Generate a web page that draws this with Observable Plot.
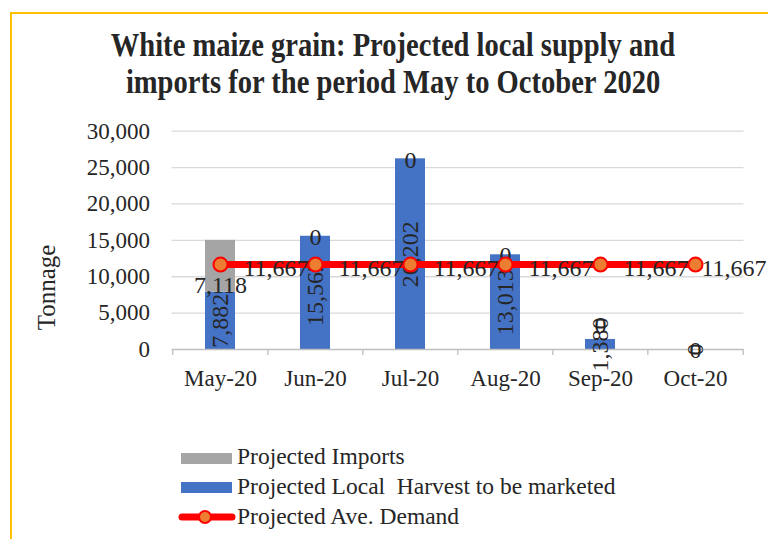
<!DOCTYPE html>
<html><head><meta charset="utf-8">
<script src="https://cdn.jsdelivr.net/npm/d3@7"></script>
<script src="https://cdn.jsdelivr.net/npm/@observablehq/plot@0.6"></script>
<style>
body{margin:0;width:768px;height:539px;overflow:hidden;background:#fff;position:relative;font-family:"Liberation Serif","Times New Roman",serif;color:#262626}
#frame{position:absolute;left:10px;top:12px;width:800px;height:600px;border:2px solid #FFC000;box-sizing:border-box}
#title{position:absolute;left:9px;top:26px;width:768px;text-align:center;font-weight:bold;font-size:34px;line-height:37px;color:#262626}
#title span{display:inline-block;transform:scaleX(0.84);transform-origin:center;white-space:nowrap}
#chart{position:absolute;left:0;top:110px}
.lg{position:absolute;font-size:23.5px;line-height:23.5px;white-space:pre;color:#262626}
.sw{position:absolute}
</style></head>
<body>
<div id="frame"></div>
<div id="title"><span>White maize grain: Projected local supply and</span><br><span>imports for the period May to October 2020</span></div>
<div id="chart"></div>
<div id="legend"></div>
<script>
const months = ["May-20","Jun-20","Jul-20","Aug-20","Sep-20","Oct-20"];
const localHarvest = [7882, 15562, 26202, 13013, 1380, 0];
const imports = [7118, 0, 0, 0, 0, 0];
const demand = [11667, 11667, 11667, 11667, 11667, 11667];
const yTicks = [0, 5000, 10000, 15000, 20000, 25000, 30000];
const seriesNames = ["Projected Imports", "Projected Local  Harvest to be marketed", "Projected Ave. Demand"];

const colors = {imports: "#A5A5A5", local: "#4472C4", line: "#FF0000", marker: "#ED7D31"};

const rows = months.map((m, i) => ({month: m, local: localHarvest[i], imports: imports[i], demand: demand[i]}));
const fmt = d3.format(",");

const W = 768, H = 290, mL = 171.5, mR = 24.5, mT = 20.7, mB = 51;
const step = (W - mL - mR) / months.length;
const last = months[months.length - 1];
const LBL = 24;

const chart = Plot.plot({
  width: W, height: H,
  marginLeft: mL, marginRight: mR, marginTop: mT, marginBottom: mB,
  style: {fontFamily: "'Liberation Serif','Times New Roman',serif", fontSize: "23px", color: "#262626", overflow: "visible"},
  x: {type: "band", domain: months, paddingInner: 0.685, paddingOuter: 0.3425},
  y: {domain: [0, 30000]},
  marks: [
    Plot.ruleY(yTicks.filter(d => d > 0), {y: d => d, stroke: "#D9D9D9", strokeWidth: 1.3}),
    Plot.axisY({ticks: yTicks, tickSize: 0, tickPadding: 22, tickFormat: fmt, label: null}),
    Plot.axisX({tickSize: 0, tickPadding: 20, label: null}),
    Plot.text(["Tonnage"], {frameAnchor: "left", rotate: -90, dx: -125, dy: 90, fontSize: 25, text: d => d}),
    Plot.barY(rows, {x: "month", y1: 0, y2: "local", fill: colors.local}),
    Plot.barY(rows, {x: "month", y1: "local", y2: d => d.local + d.imports, fill: colors.imports}),
    Plot.ruleY([0], {stroke: "#BFBFBF", strokeWidth: 1.3}),
    Plot.ruleX(months, {x: d => d, dx: -step / 2, y1: 0, y2: 0, insetBottom: -6, stroke: "#BFBFBF", strokeWidth: 1.3}),
    Plot.ruleX([last], {x: d => d, dx: step / 2, y1: 0, y2: 0, insetBottom: -6, stroke: "#BFBFBF", strokeWidth: 1.3}),
    Plot.text(rows, {x: "month", y: d => d.local / 2, text: d => fmt(d.local), rotate: -90, fontSize: LBL}),
    Plot.text(rows.filter(d => d.imports > 0), {x: "month", y: "local", text: d => fmt(d.imports), dy: -7, fontSize: LBL}),
    Plot.text(rows.filter(d => d.imports === 0 && (d.local === 0 || d.local > 5000)), {x: "month", y: d => d.local + d.imports, text: d => fmt(d.imports), dy: 1, fontSize: LBL}),
    Plot.text(rows.filter(d => d.imports === 0 && d.local > 0 && d.local <= 5000), {x: "month", y: d => d.local + d.imports, text: d => fmt(d.imports), dy: -14, fontSize: LBL}),
    Plot.line(rows, {x: "month", y: "demand", stroke: colors.line, strokeWidth: 7}),
    Plot.dot(rows, {x: "month", y: "demand", r: 7, fill: colors.marker, stroke: colors.line, strokeWidth: 2}),
    Plot.text(rows.filter(d => d.month !== last), {x: "month", y: "demand", text: d => fmt(d.demand), textAnchor: "start", dx: 23, dy: 4, fontSize: LBL}),
    Plot.text(rows.filter(d => d.month === last), {x: "month", y: "demand", text: d => fmt(d.demand), textAnchor: "start", dx: 6, dy: 4, fontSize: LBL})
  ]
});
document.getElementById("chart").appendChild(chart);

// Legend
const legend = document.getElementById("legend");
const baselines = [465, 495, 525];
seriesNames.forEach((name, i) => {
  const t = document.createElement("div");
  t.className = "lg";
  t.style.left = "237px";
  t.style.top = (baselines[i] - 19.7) + "px";
  t.textContent = name;
  legend.appendChild(t);
});
const ns = "http://www.w3.org/2000/svg";
function sw(html, left, top, w, h) {
  const s = document.createElementNS(ns, "svg");
  s.setAttribute("class", "sw");
  s.setAttribute("width", w); s.setAttribute("height", h);
  s.style.left = left + "px"; s.style.top = top + "px";
  s.innerHTML = html;
  legend.appendChild(s);
}
sw(`<rect x="0" y="0" width="51" height="11" fill="${colors.imports}"/>`, 181, 453, 51, 11);
sw(`<rect x="0" y="0" width="51" height="11" fill="${colors.local}"/>`, 181, 482, 51, 11);
sw(`<line x1="4" x2="54" y1="9" y2="9" stroke="${colors.line}" stroke-width="7" stroke-linecap="round"/><circle cx="27" cy="9" r="6" fill="${colors.marker}" stroke="${colors.line}" stroke-width="2"/>`, 178, 508, 58, 18);
</script>
</body></html>
